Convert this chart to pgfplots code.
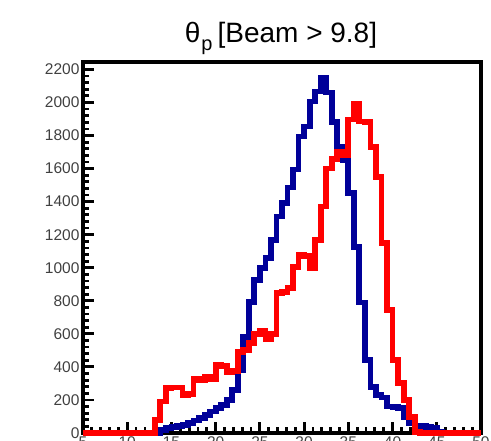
\documentclass[border=0pt]{standalone}
\usepackage{fontspec}
\setmainfont{Liberation Sans}
\usepackage{pgfplots}
\pgfplotsset{compat=1.18}
\usepackage{pgfplotstable}
\definecolor{histblue}{RGB}{0,0,153}
\definecolor{histred}{RGB}{255,0,0}

% proton polar angle, bin width 0.625 deg; columns: lower bin edge, two samples
\pgfplotstableread{
x       b     r
5.000   0     0
5.625   0     0
6.250   0     0
6.875   0     0
7.500   0     0
8.125   0     0
8.750   0     0
9.375   0     0
10.000  0     0
10.625  0     0
11.250  0     0
11.875  0     0
12.500  0     0
13.125  0     80
13.750  20    190
14.375  30    270
15.000  35    275
15.625  40    275
16.250  50    230
16.875  60    235
17.500  75    330
18.125  90    320
18.750  110   340
19.375  130   325
20.000  150   410
20.625  170   405
21.250  200   370
21.875  260   375
22.500  380   490
23.125  580   500
23.750  795   545
24.375  927   600
25.000  1000  620
25.625  1060  570
26.250  1170  600
26.875  1310  848
27.500  1390  855
28.125  1485  879
28.750  1594  1006
29.375  1794  1079
30.000  1855  1070
30.625  2006  1000
31.250  2067  1170
31.875  2150  1370
32.500  2060  1600
33.125  1880  1660
33.750  1733  1700
34.375  1654  1680
35.000  1454  1897
35.625  1127  1990
36.250  790   1885
36.875  442   1880
37.500  279   1733
38.125  230   1551
38.750  215   1150
39.375  160   745
40.000  155   442
40.625  150   303
41.250  97    200
41.875  60    97
42.500  45    5
43.125  40    0
43.750  35    0
44.375  30    0
45.000  5     0
45.625  0     0
46.250  0     0
46.875  0     0
47.500  0     0
48.125  0     0
48.750  0     0
49.375  0     0
50.000  0     0
}\thetap

\begin{document}
\begin{tikzpicture}
\begin{axis}[
  set layers,
  at={(83pt,8pt)}, anchor=south west,
  scale only axis, width=398pt, height=371pt,
  xmin=5, xmax=50, ymin=0, ymax=2245,
  xtick={5,10,...,50}, ytick={0,200,...,2200},
  minor x tick num=4, minor y tick num=4,
  tick pos=left, tick align=inside,
  major tick length=11pt, minor tick length=6pt,
  tick style={black, line width=2.8pt},
  axis line style={black, line width=3.3pt},
  /pgf/number format/assume math mode=true,
  /pgf/number format/1000 sep={},
  ticklabel style={font=\fontsize{15.5}{15.5}\selectfont, text=black!75},
  clip=false,
]
\addplot[const plot, line width=5.8pt, histblue, line join=miter] table[x=x, y=b] {\thetap};
\addplot[const plot, line width=5.8pt, histred, line join=miter] table[x=x, y=r] {\thetap};
\end{axis}
\node[anchor=base, font=\fontsize{28}{28}\selectfont] at (281pt,398pt)
  {θ\kern1pt\raisebox{-8pt}{\fontsize{20}{20}\selectfont p}\kern5pt[Beam > 9.8]};
\pgfresetboundingbox
\useasboundingbox (0,0) rectangle (491pt,441pt);
\end{tikzpicture}
\end{document}
